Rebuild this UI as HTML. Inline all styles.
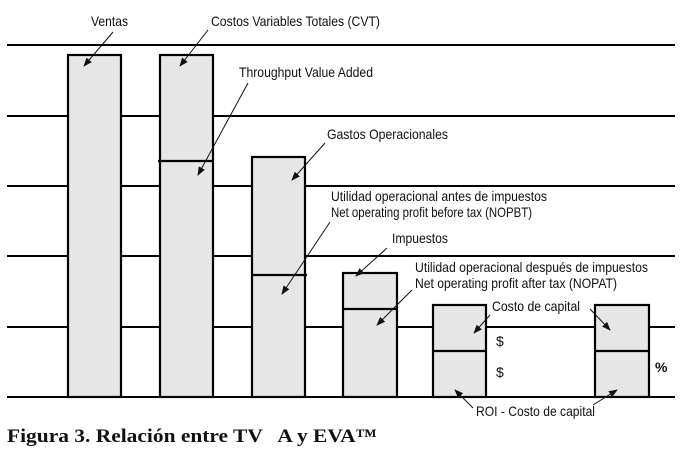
<!DOCTYPE html>
<html><head><meta charset="utf-8"><style>
html,body{margin:0;padding:0;background:#fff;}
svg{display:block;}
text{font-family:"Liberation Sans Narrow","Liberation Sans",sans-serif;font-size:14px;fill:#111;}
</style></head><body>
<svg width="680" height="451" viewBox="0 0 680 451" xmlns="http://www.w3.org/2000/svg">
<defs><marker id="a" markerWidth="9" markerHeight="7" refX="8" refY="3.5" orient="auto" markerUnits="userSpaceOnUse"><path d="M0,0 L9,3.5 L0,7 Z" fill="#111"/></marker></defs>
<g stroke="#000" stroke-width="2">
<line x1="7" y1="45" x2="675" y2="45"/>
<line x1="7" y1="116" x2="675" y2="116"/>
<line x1="7" y1="186" x2="675" y2="186"/>
<line x1="7" y1="256" x2="675" y2="256"/>
<line x1="7" y1="327" x2="675" y2="327"/>
<line x1="7" y1="397" x2="675" y2="397"/>
</g>
<g stroke="#000" stroke-width="2.2" fill="#e6e6e6">
<rect x="68" y="55" width="53" height="342"/>
<rect x="160" y="55" width="53" height="342"/>
<rect x="252" y="157" width="53" height="240"/>
<rect x="343" y="273" width="54" height="124"/>
<rect x="433" y="305" width="53" height="92"/>
<rect x="595" y="305" width="54" height="92"/>
<line x1="158" y1="161" x2="213" y2="161"/>
<line x1="252" y1="275" x2="307" y2="275"/>
<line x1="343" y1="309" x2="397" y2="309"/>
<line x1="433" y1="351" x2="486" y2="351"/>
<line x1="595" y1="351" x2="649" y2="351"/>
</g>
<g stroke="#111" stroke-width="1" marker-end="url(#a)">
<line x1="113" y1="32" x2="84" y2="66"/>
<line x1="208" y1="30" x2="180" y2="66"/>
<line x1="248" y1="83" x2="198" y2="175"/>
<line x1="325" y1="143" x2="292" y2="180"/>
<line x1="330" y1="222" x2="282" y2="294"/>
<line x1="387" y1="248" x2="356" y2="276"/>
<line x1="412" y1="290" x2="377" y2="325"/>
<line x1="490" y1="315" x2="474" y2="333"/>
<line x1="590" y1="309" x2="610" y2="330"/>
<line x1="473" y1="408" x2="455" y2="390"/>
<line x1="593" y1="405" x2="617" y2="390"/>
</g>
<text x="91" y="26" textLength="37" lengthAdjust="spacingAndGlyphs">Ventas</text>
<text x="211" y="26" textLength="169" lengthAdjust="spacingAndGlyphs">Costos Variables Totales (CVT)</text>
<text x="239" y="77" textLength="134" lengthAdjust="spacingAndGlyphs">Throughput Value Added</text>
<text x="327" y="139" textLength="121" lengthAdjust="spacingAndGlyphs">Gastos Operacionales</text>
<text x="331" y="201" textLength="216" lengthAdjust="spacingAndGlyphs">Utilidad operacional antes de impuestos</text>
<text x="331" y="217" textLength="201" lengthAdjust="spacingAndGlyphs">Net operating profit before tax (NOPBT)</text>
<text x="392" y="243" textLength="56" lengthAdjust="spacingAndGlyphs">Impuestos</text>
<text x="415" y="272" textLength="233" lengthAdjust="spacingAndGlyphs">Utilidad operacional después de impuestos</text>
<text x="415" y="288" textLength="202" lengthAdjust="spacingAndGlyphs">Net operating profit after tax (NOPAT)</text>
<text x="492" y="311" textLength="88" lengthAdjust="spacingAndGlyphs">Costo de capital</text>
<text x="496" y="346">$</text>
<text x="496" y="377">$</text>
<text x="655" y="372" style="font-weight:bold">%</text>
<text x="476" y="416" textLength="119" lengthAdjust="spacingAndGlyphs">ROI - Costo de capital</text>
<text x="7" y="442" textLength="370" lengthAdjust="spacingAndGlyphs" style="font-family:'Liberation Serif',serif;font-weight:bold;font-size:19px;white-space:pre" xml:space="preserve">Figura 3. Relación entre TV   A y EVA™</text>
</svg>
</body></html>
